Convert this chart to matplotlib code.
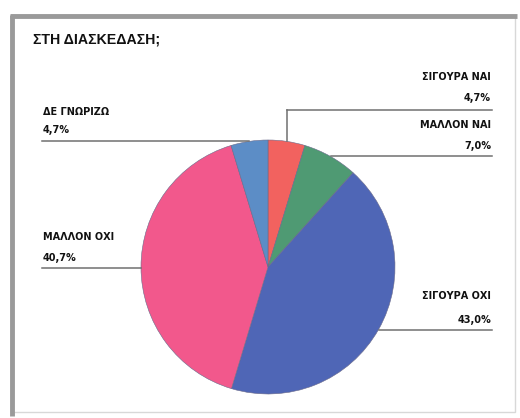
import numpy as np
import matplotlib
matplotlib.use("Agg")
import matplotlib.pyplot as plt
from matplotlib.patches import Rectangle

# Survey answers, clockwise from 12 o'clock
categories = ["ΣΙΓΟΥΡΑ ΝΑΙ", "ΜΑΛΛΟΝ ΝΑΙ", "ΣΙΓΟΥΡΑ ΟΧΙ", "ΜΑΛΛΟΝ ΟΧΙ", "ΔΕ ΓΝΩΡΙΖΩ"]
values = [4.7, 7.0, 43.0, 40.7, 4.7]
value_labels = ["4,7%", "7,0%", "43,0%", "40,7%", "4,7%"]
colors = ["#F2625F", "#4F9A73", "#4F66B6", "#F2588C", "#5C8DC6"]
title = "ΣΤΗ ΔΙΑΣΚΕΔΑΣΗ;"

W, H = 520, 418
fig = plt.figure(figsize=(W / 100, H / 100), dpi=100)
ax = fig.add_axes([0, 0, 1, 1])

def Y(y):
    return H - y

cx, cy, r = 268, 267, 127
wedges, _ = ax.pie(values, colors=colors, startangle=90, counterclock=False,
                   center=(cx, Y(cy)), radius=r, frame=True,
                   wedgeprops=dict(edgecolor="#6a6a8a", linewidth=0.4))
ax.set_xlim(0, W)
ax.set_ylim(0, H)
ax.set_aspect("equal")
ax.axis("off")

# frame
ax.add_patch(Rectangle((11, Y(412)), 504, 397, fill=False, edgecolor="#d8d8d8", lw=1))
ax.plot([11.5, 11.5], [Y(15), Y(416)], color="#9a9a9a", lw=3.5, solid_capstyle="butt")
ax.plot([10, 517], [Y(15.5), Y(15.5)], color="#9a9a9a", lw=3.5, solid_capstyle="butt")

ax.text(33, Y(40), title, fontsize=10.2, family="Liberation Sans",
        fontweight="bold", color="#111111", va="center", ha="left")

# label layout: (side, line y, name y, value y)
layout = [
    ("right", 110, 77, 98),
    ("right", 156, 125, 146),
    ("right", 330, 296, 320),
    ("left", 268, 237, 258),
    ("left", 141, 112, 130),
]
line_col = "#707070"
fs = 7.0
for w, name, vl, (side, ly, ny, vy) in zip(wedges, categories, value_labels, layout):
    mid = np.deg2rad((w.theta1 + w.theta2) / 2)
    px = cx + r * np.cos(mid)
    py = Y(cy) + r * np.sin(mid)
    if side == "right":
        x_end, ha, tx = 492, "right", 491
    else:
        x_end, ha, tx = 42, "left", 43
    if abs(Y(ly) - py) > 3:
        ax.plot([px, px], [py, Y(ly)], color=line_col, lw=1.1)
    ax.plot([px, x_end], [Y(ly), Y(ly)], color=line_col, lw=1.1)
    ax.text(tx, Y(ny), name, ha=ha, va="center", fontsize=fs,
            family="DejaVu Sans", fontweight="bold", color="#111111")
    ax.text(tx, Y(vy), vl, ha=ha, va="center", fontsize=fs,
            family="DejaVu Sans", fontweight="bold", color="#111111")

fig.savefig("out.png", dpi=100)
